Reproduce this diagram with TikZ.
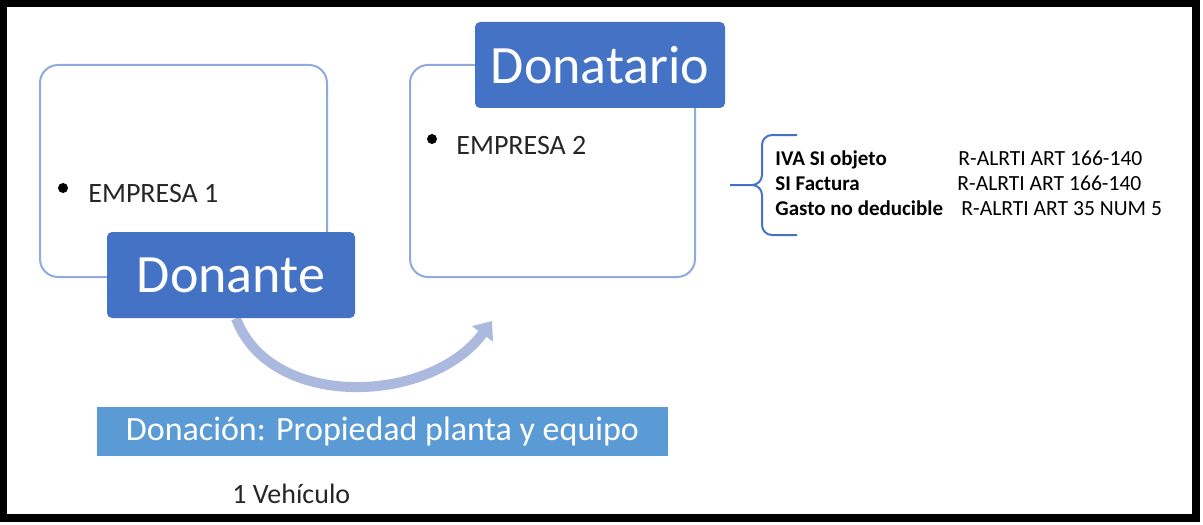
\documentclass[tikz,border=0pt]{standalone}
\usepackage{fontspec}
\setmainfont{Carlito}
\usetikzlibrary{arrows.meta,backgrounds,calc}
\definecolor{azulOscuro}{HTML}{4472C4}
\definecolor{azulBorde}{HTML}{8FAADC}
\definecolor{azulClaro}{HTML}{5B9BD5}
\definecolor{azulFlecha}{HTML}{ACB9DF}
\definecolor{grisTexto}{HTML}{262626}

\begin{document}
\begin{tikzpicture}[x=0.5pt,y=-0.5pt,
    contenedor/.style={draw=azulBorde, line width=1pt, rounded corners=9pt, minimum width=143.5pt, minimum height=106pt, inner sep=0pt},
    etiqueta/.style={fill=azulOscuro, text=white, rounded corners=2.5pt, minimum width=124pt, minimum height=43pt, inner sep=0pt, font=\fontsize{27}{30}\selectfont},
    empresa/.style={anchor=base west, text=grisTexto, inner sep=0pt, font=\fontsize{14}{16}\selectfont},
    vineta/.style={fill=black, circle, inner sep=0pt, minimum size=5pt},
    concepto/.style={anchor=base west, inner sep=0pt, font=\bfseries\fontsize{10.5}{12}\selectfont},
    norma/.style={anchor=base west, inner sep=0pt, font=\fontsize{10.8}{12}\selectfont}]
        \useasboundingbox (0,0) rectangle (1203,524);
        \draw[line width=3.75pt] (3.5,3) rectangle (1196,518); % marco

        \node[contenedor] (cajaDonante) at (183.5,171) {}; % caja de la empresa 1
        \node[contenedor, minimum width=142.5pt] (cajaDonatario) at (552.5,171) {}; % caja de la empresa 2
        \node[vineta] (punto1) at (63,188) {};
        \node[empresa] (empresa1) at (88,202) {EMPRESA 1};
        \node[vineta] (punto2) at (432,139) {};
        \node[empresa] (empresa2) at (456,155) {EMPRESA 2};
        \node[etiqueta] (donante) at (231,275) {Donante};
        \node[etiqueta, minimum width=125pt] (donatario) at (600,65) {Donatario};

        \coordinate (llegada) at (492,321); % punta de la flecha
        \begin{scope}[on background layer]
            \draw[azulFlecha, line width=5pt, -{Triangle[length=8pt,width=12.5pt]}] ($(donante.south west)!0.52!(donante.south east)$) .. controls (270,410) and (430,405) .. (llegada);
        \end{scope}

        \node[fill=azulClaro, text=white, minimum width=285.5pt, minimum height=24.5pt, inner sep=0pt, font=\fontsize{17}{20}\selectfont] (donacion) at (382.5,431.5) {Donación: Propiedad planta y equipo};
        \node[empresa] (vehiculo) at (232,503) {1 Vehículo};

        % llave con el tratamiento tributario
        \draw[azulOscuro, line width=1pt] (797,135) -- (772,135) to[out=180,in=90] (762,145) -- (762,175) to[out=-90,in=0] (752,185) -- (730,185);
        \draw[azulOscuro, line width=1pt] (797,235) -- (772,235) to[out=180,in=-90] (762,225) -- (762,195) to[out=90,in=0] (752,185);
        \node[concepto] (iva) at (775,165) {IVA SI objeto};
        \node[concepto] (factura) at (775,190) {SI Factura};
        \node[concepto] (gasto) at (775,215) {Gasto no deducible};
        \node[norma] (normaIva) at (958,165) {R-ALRTI ART 166-140};
        \node[norma] (normaFactura) at (957,190) {R-ALRTI ART 166-140};
        \node[norma] (normaGasto) at (961,215) {R-ALRTI ART 35 NUM 5};
    \end{tikzpicture}
\end{document}
